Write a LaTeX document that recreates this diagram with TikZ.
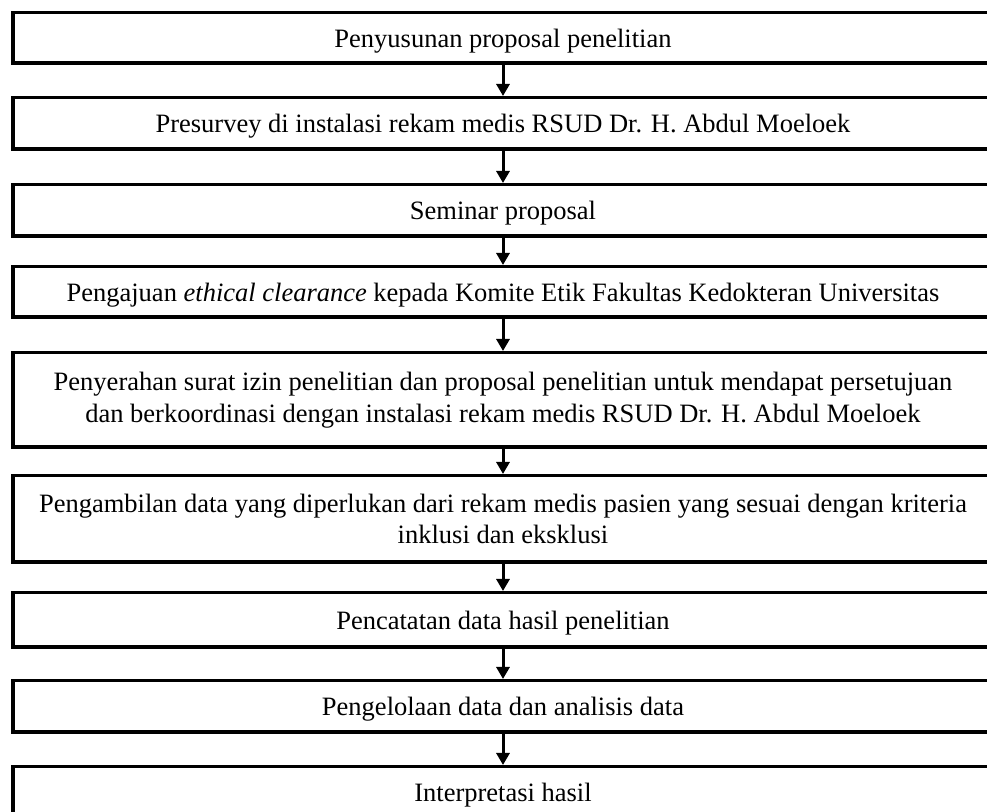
\documentclass[tikz,border=0pt]{standalone}
\usepackage{fontspec}
\setmainfont{Liberation Serif}
\usetikzlibrary{arrows.meta}
\tikzset{
  stepbox/.style={draw, line width=1.75pt, minimum width=490.25pt, inner sep=0pt, align=center, font=\fontsize{13.25}{15.8}\selectfont},
  onebox/.style={stepbox, text depth=0pt},
  flow/.style={line width=1.5pt, -{Triangle[width=6.5pt,length=6pt]}}
}
\begin{document}
\begin{tikzpicture}[x=0.5pt,y=-0.5pt]
\useasboundingbox (0,0) rectangle (987,812); % page size in px
\node[onebox, minimum height=25.25pt] (s1) at (503,38) {Penyusunan proposal penelitian};
\node[onebox, minimum height=25.75pt] (s2) at (503,123.5) {Presurvey di instalasi rekam medis RSUD Dr. H. Abdul Moeloek};
\node[onebox, minimum height=25.75pt] (s3) at (503,210.5) {Seminar proposal};
\node[onebox, minimum height=25.25pt] (s4) at (503,292) {Pengajuan \textit{ethical clearance} kepada Komite Etik Fakultas Kedokteran Universitas};
\node[stepbox, minimum height=47.25pt] (s5) at (503,400) {Penyerahan surat izin penelitian dan proposal penelitian untuk mendapat persetujuan\\ dan berkoordinasi dengan instalasi rekam medis RSUD Dr. H. Abdul Moeloek};
\node[stepbox, minimum height=43.25pt] (s6) at (503,519) {Pengambilan data yang diperlukan dari rekam medis pasien yang sesuai dengan kriteria\\ inklusi dan eksklusi};
\node[onebox, minimum height=27.25pt] (s7) at (503,620) {Pencatatan data hasil penelitian};
\node[onebox, minimum height=25.75pt] (s8) at (503,706.5) {Pengelolaan data dan analisis data};
\node[onebox, minimum height=25.75pt] (s9) at (503,792.5) {Interpretasi hasil};
% arrows between the steps
\foreach \a/\b in {s1/s2,s2/s3,s3/s4,s4/s5,s5/s6,s6/s7,s7/s8,s8/s9}
  \draw[flow] (\a) -- (\b);
\end{tikzpicture}
\end{document}
